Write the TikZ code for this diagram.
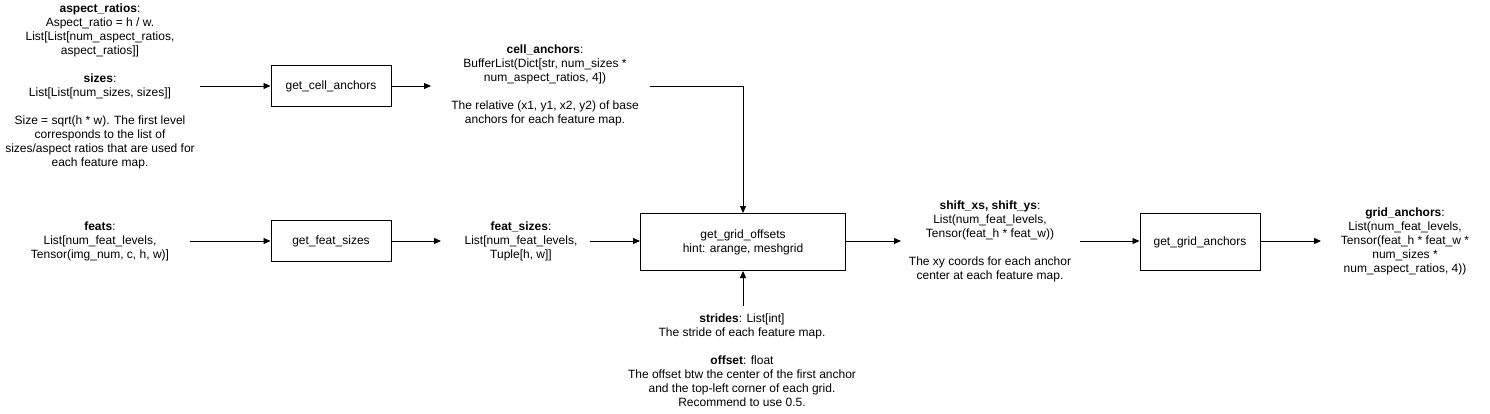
\documentclass[tikz,border=0pt]{standalone}
\usepackage{fontspec}
\setmainfont{Liberation Sans}
\usetikzlibrary{arrows.meta}

\begin{document}
\begin{tikzpicture}[x=1pt, y=-1pt,
  every node/.style = {font=\fontsize{12}{14}\selectfont},
  fnbox/.style = {shape=rectangle, draw, line width=1pt, align=center,
    minimum width=120pt, minimum height=41pt},
  note/.style = {align=center, inner sep=0pt},
  flow/.style = {line width=0.9pt, -{Triangle[length=7pt, width=6pt]}}]
  \useasboundingbox (0,0) rectangle (1490,414);

  % inputs on the left
  \node[note] (ratios) at (100,86) {\textbf{aspect\_ratios}:\\
    Aspect\_ratio = h / w.\\ List[List[num\_aspect\_ratios,\\ aspect\_ratios]]\\[14pt]
    \textbf{sizes}:\\ List[List[num\_sizes, sizes]]\\[14pt]
    Size = sqrt(h * w). The first level\\ corresponds to the list of\\
    sizes/aspect ratios that are used for\\ each feature map.};
  \node[note] (feats) at (100,241) {\textbf{feats}:\\ List[num\_feat\_levels,\\
    Tensor(img\_num, c, h, w)]};

  % functions
  \node[fnbox] (cellfn) at (331,86) {get\_cell\_anchors};
  \node[fnbox] (featfn) at (331,241) {get\_feat\_sizes};
  \node[fnbox, minimum width=205pt, minimum height=57pt] (gridoff) at (743,242)
    {get\_grid\_offsets\\ hint: arange, meshgrid};
  \node[fnbox, minimum height=57pt] (gridfn) at (1200,242) {get\_grid\_anchors};

  % intermediate results
  \node[note] (cellanch) at (545,85) {\textbf{cell\_anchors}:\\
    BufferList(Dict[str, num\_sizes *\\ num\_aspect\_ratios, 4])\\[14pt]
    The relative (x1, y1, x2, y2) of base\\ anchors for each feature map.};
  \node[note] (featsz) at (521,241) {\textbf{feat\_sizes}:\\
    List[num\_feat\_levels,\\ Tuple[h, w]]};
  \node[note] (strides) at (742,360) {\textbf{strides}: List[int]\\
    The stride of each feature map.\\[14pt]
    \textbf{offset}: float\\ The offset btw the center of the first anchor\\
    and the top-left corner of each grid.\\ Recommend to use 0.5.};
  \node[note] (shifts) at (990,241) {\textbf{shift\_xs, shift\_ys}:\\
    List(num\_feat\_levels,\\ Tensor(feat\_h * feat\_w))\\[14pt]
    The xy coords for each anchor\\ center at each feature map.};
  \node[note] (gridanch) at (1405,241) {\textbf{grid\_anchors}:\\
    List(num\_feat\_levels,\\ Tensor(feat\_h * feat\_w *\\ num\_sizes *\\
    num\_aspect\_ratios, 4))};

  % free ends of the arrows
  \coordinate (ratiosout) at (200,86);
  \coordinate (cellin) at (431,86);
  \coordinate (cellout) at (650,86);
  \coordinate (featsout) at (190,241);
  \coordinate (szin) at (441,241);
  \coordinate (szout) at (590,241);
  \coordinate (stridesout) at (743,306);
  \coordinate (shiftin) at (901,241);
  \coordinate (shiftout) at (1080,241);
  \coordinate (gridin) at (1321,241);

  \draw[flow] (ratiosout) -- (cellfn);
  \draw[flow] (cellfn) -- (cellin);
  \draw[flow] (cellout) -| (gridoff.north);
  \draw[flow] (featsout) -- (featfn);
  \draw[flow] (featfn) -- (szin);
  \draw[flow] (szout) -- (gridoff.west |- szout);
  \draw[flow] (stridesout) -- (gridoff.south);
  \draw[flow] (gridoff.east |- shiftin) -- (shiftin);
  \draw[flow] (shiftout) -- (gridfn.west |- shiftout);
  \draw[flow] (gridfn.east |- gridin) -- (gridin);
\end{tikzpicture}
\end{document}
